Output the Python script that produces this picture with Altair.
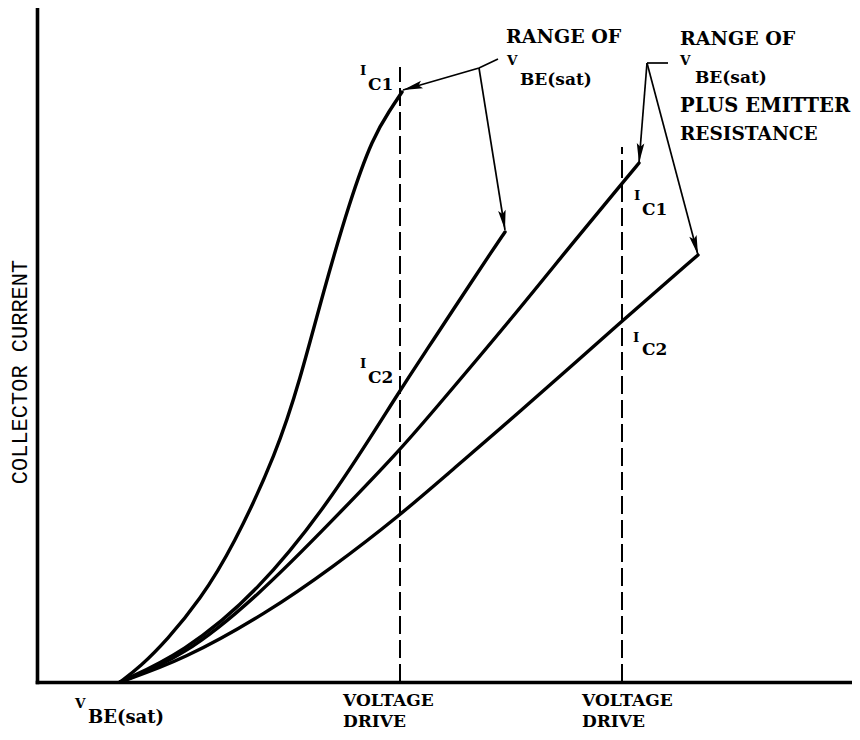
import math
import altair as alt
import pandas as pd

# Plot frame in arbitrary units (drive voltage along x, collector current along y)
X_MAX = 815
Y_MAX = 674

# Four collector-current curves, all starting at V_BE(sat)
curve_a_x = [83, 103, 130, 163, 196, 240, 263, 286, 313, 336, 353, 365]
curve_a_y = [0, 15, 42, 82, 135, 230, 302, 389, 482, 545, 572, 590]
curve_b_x = [83, 146, 220, 296, 363, 393, 410, 461, 468]
curve_b_y = [0, 29, 89, 184, 292, 337, 363, 440, 450]
curve_c_x = [83, 146, 220, 296, 363, 393, 476, 538, 588, 602]
curve_c_y = [0, 25, 85, 162, 232, 267, 365, 442, 502, 519]
curve_d_x = [83, 146, 230, 296, 361, 415, 476, 586, 661]
curve_d_y = [0, 22, 69, 115, 165, 212, 264, 362, 427]

# Voltage-drive marker lines
drive_x = [363, 585]
drive_top = [615, 535]

# Annotation leader lines (x list, y list, has arrowhead)
leaders = [
    ([461, 442, 366], [623, 614, 592], True),
    ([442, 468], [614, 452], True),
    ([631, 610], [619, 619], False),
    ([610, 602], [619, 519], True),
    ([610, 661], [619, 427], True),
]

# Text labels: text, x, y (baseline-left), font size
label_text = ["RANGE OF", "V", "BE(sat)",
              "RANGE OF", "V", "BE(sat)", "PLUS EMITTER", "RESISTANCE",
              "I", "C1", "I", "C2", "I", "C1", "I", "C2",
              "V", "BE(sat)", "VOLTAGE", "DRIVE", "VOLTAGE", "DRIVE"]
label_x = [469, 470, 483,
           643, 643, 658, 643, 643,
           323, 331, 323, 331, 597, 605, 596, 605,
           38, 51, 306, 306, 545, 545]
label_y = [639, 617, 597,
           637, 617, 599, 570, 542,
           607, 592, 314, 299, 482, 467, 340, 327,
           -26, -41, -24, -45, -24, -45]
label_size = [19, 13.5, 17,
              19, 13.5, 17, 19.5, 18.5,
              13.5, 17, 13.5, 17, 13.5, 17, 13.5, 17,
              13.5, 18, 17, 17, 17, 17]

y_title = "COLLECTOR CURRENT"

# ---- build tables ----
rows = []
for name, xv_list, yv_list in [("a", curve_a_x, curve_a_y), ("b", curve_b_x, curve_b_y),
                               ("c", curve_c_x, curve_c_y), ("d", curve_d_x, curve_d_y)]:
    for i, (xv, yv) in enumerate(zip(xv_list, yv_list)):
        rows.append({"series": name, "i": i, "x": xv, "y": yv})
curves = pd.DataFrame(rows)

drives = pd.DataFrame({"x": drive_x, "y": [0] * len(drive_x), "y2": drive_top})

lrows, heads = [], []
for k, (lx, ly, arrow) in enumerate(leaders):
    for i, (xv, yv) in enumerate(zip(lx, ly)):
        lrows.append({"line": k, "i": i, "x": xv, "y": yv})
    if arrow:
        dx = lx[-1] - lx[-2]
        dy = ly[-1] - ly[-2]
        ang = math.degrees(math.atan2(dx, dy)) % 360
        heads.append({"x": lx[-1], "y": ly[-1], "ang": ang})
lead_df = pd.DataFrame(lrows)
head_df = pd.DataFrame(heads)

labels = pd.DataFrame({"text": label_text, "x": label_x, "y": label_y, "size": label_size})
ytitle_df = pd.DataFrame({"text": [y_title], "x": [-10], "y": [310]})

xs = alt.Scale(domain=[0, X_MAX], nice=False, zero=False)
ys = alt.Scale(domain=[0, Y_MAX], nice=False, zero=False)

frame_axis = dict(domain=True, domainColor="black", domainWidth=3.6, domainCap="square",
                  ticks=False, labels=False, grid=False, title="")

X = alt.X("x:Q", scale=xs, axis=alt.Axis(**frame_axis))
Y = alt.Y("y:Q", scale=ys, axis=alt.Axis(**frame_axis))

curve_layer = alt.Chart(curves).mark_line(
    color="black", strokeWidth=3.4, interpolate="basis", strokeCap="round"
).encode(x=X, y=Y, detail="series:N", order="i:Q")

drive_layer = alt.Chart(drives).mark_rule(
    color="black", strokeWidth=2, strokeDash=[18, 6]
).encode(x=X, y=Y, y2="y2:Q")

lead_layer = alt.Chart(lead_df).mark_line(
    color="black", strokeWidth=1.7
).encode(x=X, y=Y, detail="line:N", order="i:Q")

head_layer = alt.Chart(head_df).mark_point(
    shape="M0,0 L0.42,2.2 L0,1.8 L-0.42,2.2 Z",
    filled=True, color="black", opacity=1, size=324, strokeWidth=0
).encode(x=X, y=Y, angle=alt.Angle("ang:Q", scale=None))

text_layer = alt.Chart(labels).mark_text(
    align="left", baseline="alphabetic", font="DejaVu Serif", fontWeight="bold", color="black"
).encode(x=X, y=Y, text="text:N", size=alt.Size("size:Q", scale=None))

ytitle_layer = alt.Chart(ytitle_df).mark_text(
    align="center", baseline="alphabetic", angle=270, font="Liberation Mono",
    fontSize=22, color="black"
).encode(x=X, y=Y, text="text:N")

chart = alt.layer(
    curve_layer, drive_layer, lead_layer, head_layer, text_layer, ytitle_layer
).properties(
    width=X_MAX, height=Y_MAX,
    padding={"left": 29, "top": 0, "right": 0, "bottom": 50},
    autosize="none",
    background="white",
).configure_view(stroke="transparent")

chart.save("out.html", embed_options={"renderer": "svg", "actions": False})
